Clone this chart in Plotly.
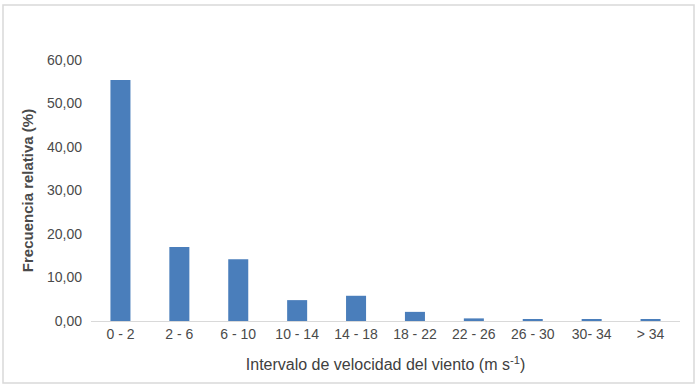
import plotly.graph_objects as go

categories = ["0 - 2", "2 - 6", "6 - 10", "10 - 14", "14 - 18", "18 - 22", "22 - 26", "26 - 30", "30- 34", "> 34"]
frecuencia = [55.4, 17.0, 14.2, 4.8, 5.8, 2.1, 0.6, 0.3, 0.3, 0.3]
y_ticks = [0, 10, 20, 30, 40, 50, 60]

W, H = 699, 390
L, R, T, B = 91, 19, 60, 69
pw, ph = W - L - R, H - T - B

def px(x):
    return (x - L) / pw

def py(y):
    return (H - B - y) / ph

fig = go.Figure()
fig.add_trace(go.Bar(x=categories, y=frecuencia, marker=dict(color="#4a7ebb", line=dict(width=0)), width=0.34))

font_fam = "Liberation Sans, Arial, sans-serif"
txt = "#4a4a4a"
fig.update_layout(
    width=W, height=H,
    margin=dict(l=L, r=R, t=T, b=B),
    paper_bgcolor="white", plot_bgcolor="white",
    separators=",.",
    showlegend=False,
    bargap=0.66,
    xaxis=dict(
        showgrid=False, showline=True, linecolor="#d9d9d9", linewidth=1,
        ticks="", tickfont=dict(family=font_fam, size=14, color=txt),
        title=dict(text="Intervalo de velocidad del viento (m s<sup>-1</sup>)",
                   font=dict(family=font_fam, size=16, color="#404040"), standoff=18),
    ),
    yaxis=dict(
        range=[0, 60], tickvals=y_ticks, tickformat=".2f",
        showgrid=False, zeroline=False, showline=False, ticks="",
        ticklabelstandoff=8,
        tickfont=dict(family=font_fam, size=14, color=txt),
        title=dict(text="<b>Frecuencia relativa (%)</b>",
                   font=dict(family=font_fam, size=15, color=txt), standoff=9),
    ),
    shapes=[dict(type="rect", xref="paper", yref="paper",
                 x0=px(3), x1=px(694), y0=py(383), y1=py(5),
                 line=dict(color="#d9d9d9", width=1.5), fillcolor="rgba(0,0,0,0)", layer="below")],
)
fig.write_html("out.html")
